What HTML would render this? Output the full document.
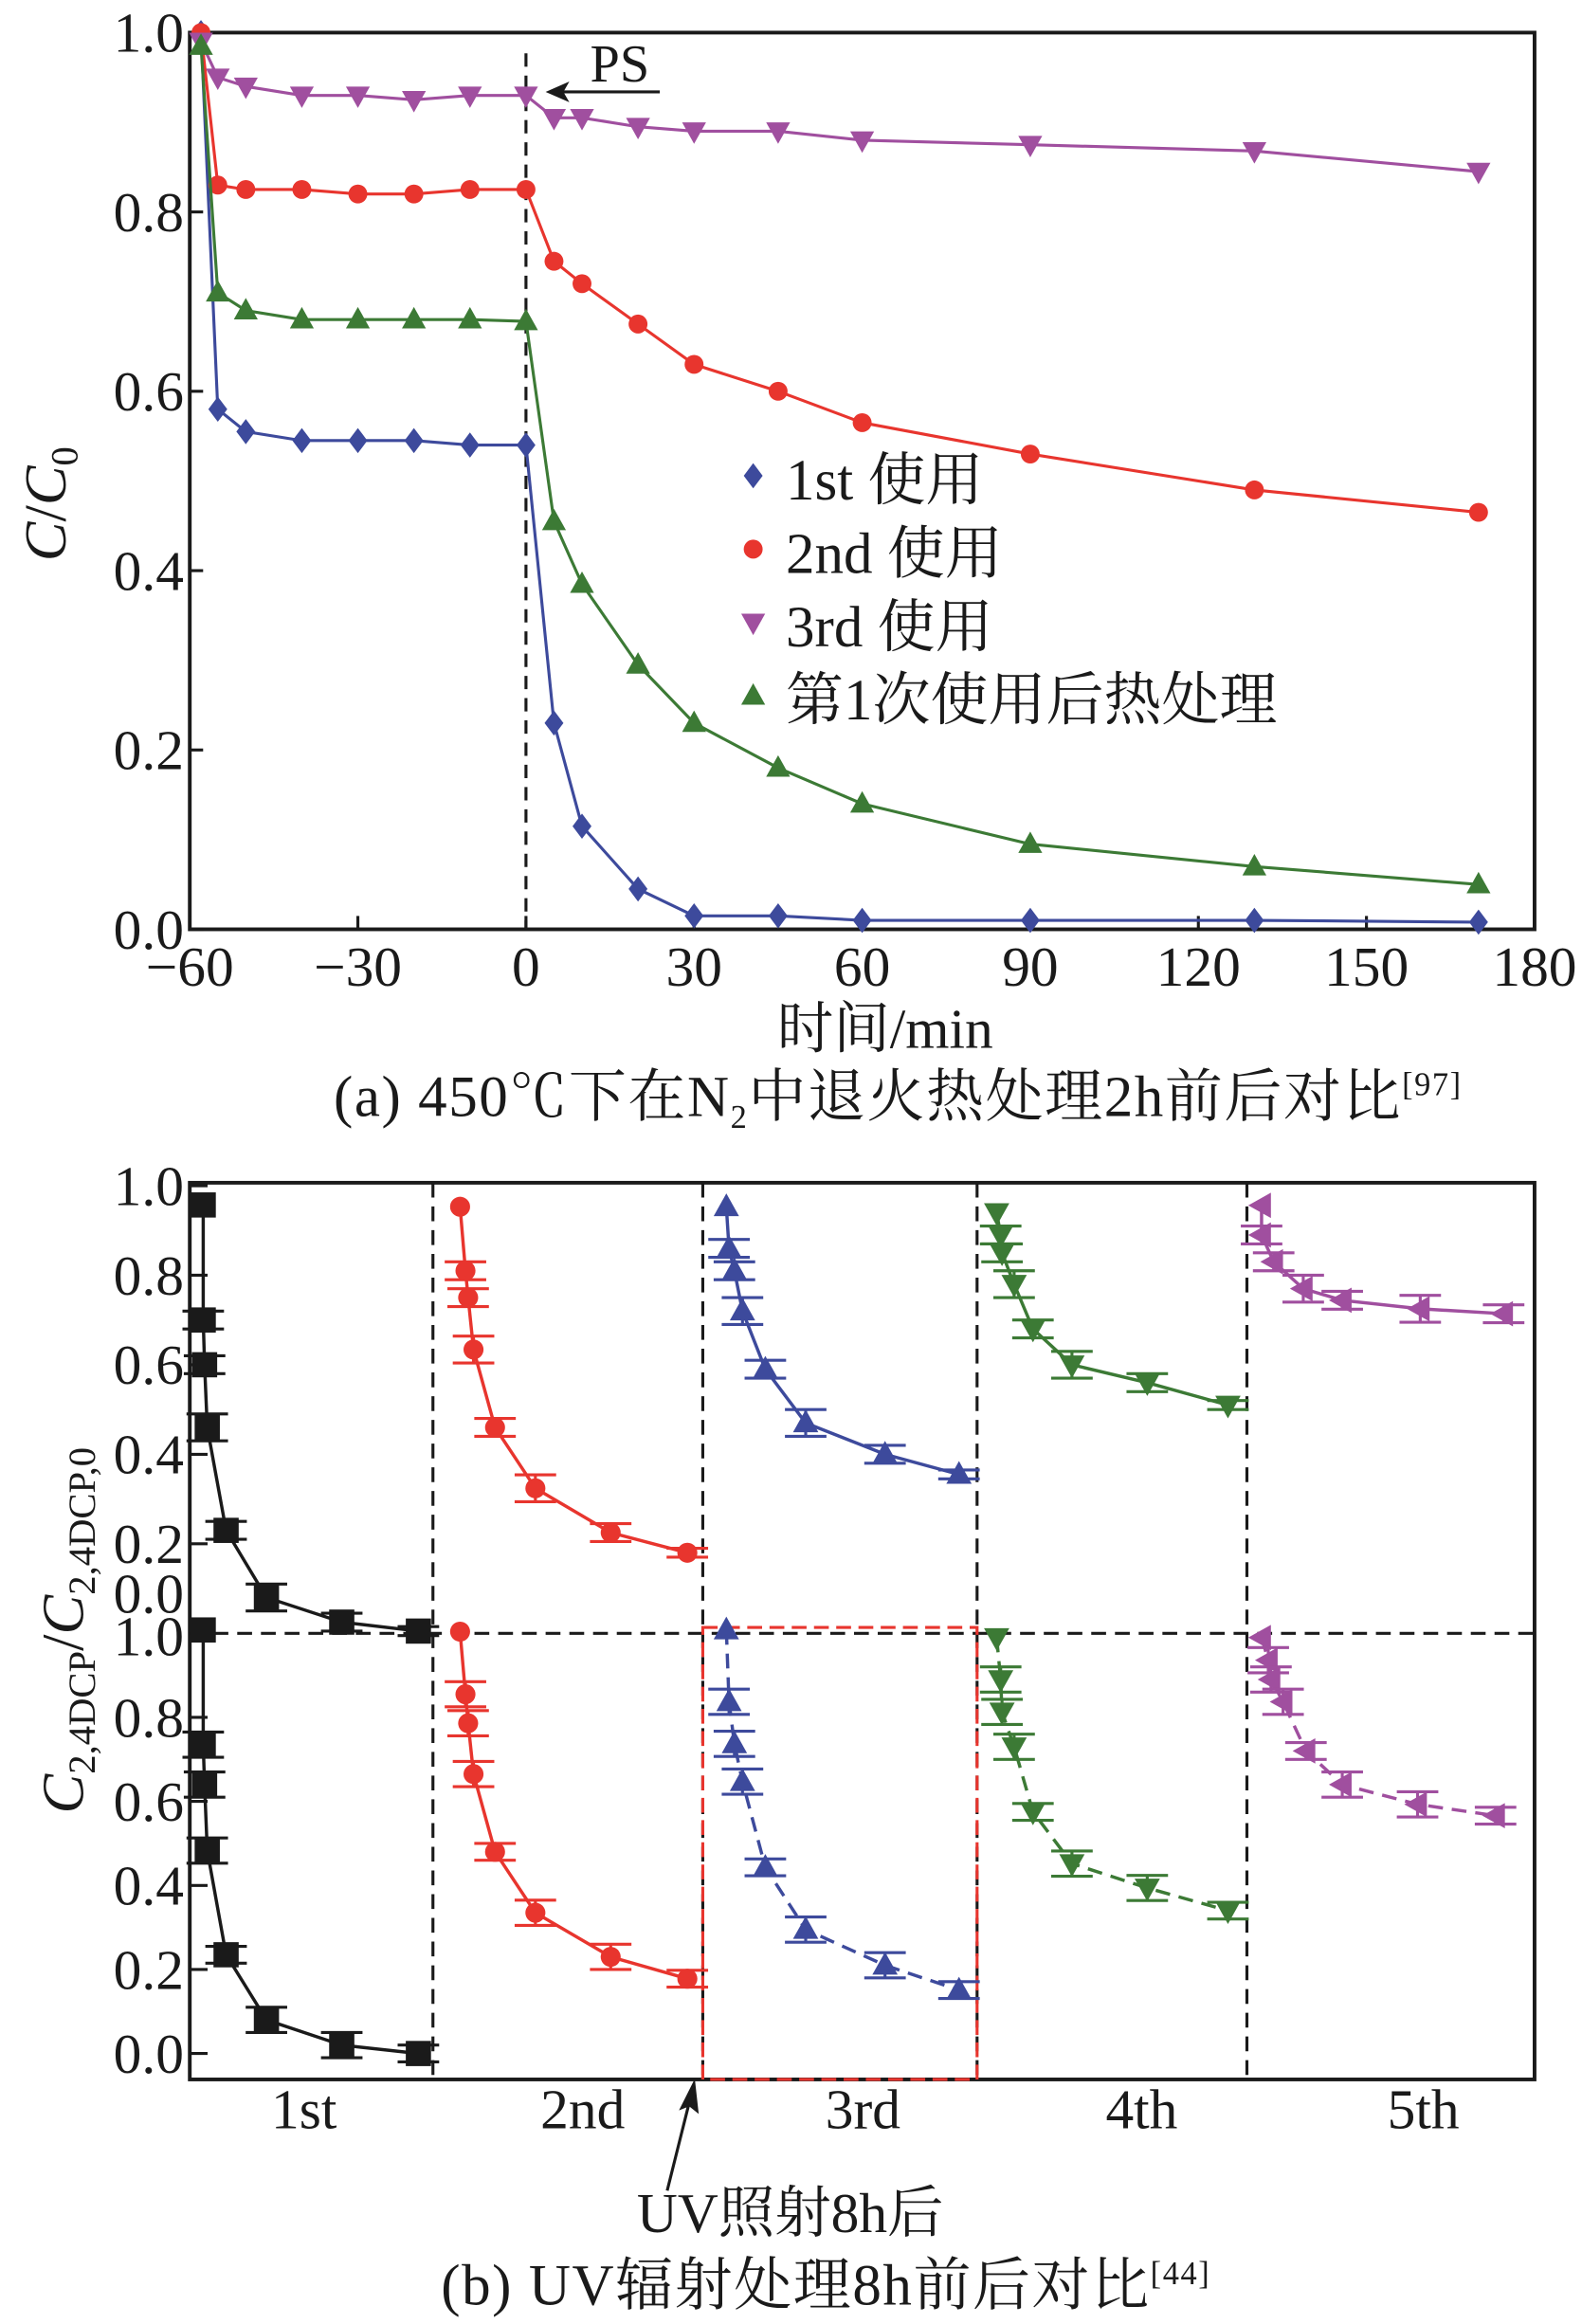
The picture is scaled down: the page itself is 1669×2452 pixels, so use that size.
<!DOCTYPE html>
<html><head><meta charset="utf-8"><style>
html,body{margin:0;padding:0;background:#fff}
svg{display:block}
text{font-family:"Liberation Serif","Noto Serif CJK SC","Noto Sans CJK SC",serif;fill:#1a1a1a}
</style></head><body>
<svg id="fig" width="1669" height="2452" viewBox="0 0 1067 1568" preserveAspectRatio="none" xmlns="http://www.w3.org/2000/svg">
<rect x="0" y="0" width="1067" height="1568" fill="#fff"/>
<g id="pa"></g>
<g id="pb"></g>
</svg>
<script>
// ---------- Panel (a) data ----------
const aTimes = [-58,-55,-50,-40,-30,-20,-10,0,5,10,20,30,45,60,90,130,170];
const aRun1 = [1.0,0.58,0.555,0.545,0.545,0.545,0.54,0.54,0.23,0.115,0.045,0.015,0.015,0.01,0.01,0.01,0.008];
const aRun2 = [1.0,0.83,0.825,0.825,0.82,0.82,0.825,0.825,0.745,0.72,0.675,0.63,0.6,0.565,0.53,0.49,0.465];
const aRun3 = [0.99,0.95,0.94,0.93,0.93,0.925,0.93,0.93,0.905,0.905,0.895,0.89,0.89,0.88,0.875,0.868,0.845];
const aHeat = [0.985,0.71,0.69,0.68,0.68,0.68,0.68,0.678,0.455,0.385,0.295,0.23,0.18,0.14,0.095,0.07,0.05];
const aXTicks = [-60,-30,0,30,60,90,120,150,180];
const aYTicks = [0,0.2,0.4,0.6,0.8,1.0];
const aLegend = ["1st 使用","2nd 使用","3rd 使用","第1次使用后热处理"];

// ---------- Panel (b) data ----------
const bCycles = ["1st","2nd","3rd","4th","5th"];
const bX1 = [1.0,1.0,1.1,1.3,2.7,5.7,11.3,17.0];
const bX2 = [20.1,20.5,20.7,21.1,22.7,25.7,31.3,37.0];
const bX3 = [39.9,40.1,40.5,41.1,42.8,45.8,51.7,57.2];
const bX4 = [60.0,60.3,60.4,61.3,62.7,65.6,71.2,77.2];
const bX5u = [79.7,79.7,80.6,82.8,85.7,91.5,97.7];
const bX5l = [79.7,80.2,80.4,81.3,83.0,85.7,91.3,97.1];
const bU1 = [0.957,0.70,0.60,0.46,0.23,0.08,0.025,0.005];
const bU2 = [0.953,0.81,0.75,0.634,0.46,0.324,0.225,0.18];
const bU3 = [0.953,0.86,0.81,0.72,0.59,0.47,0.40,0.355];
const bU4 = [0.94,0.89,0.85,0.78,0.68,0.60,0.56,0.51];
const bU5 = [0.956,0.89,0.83,0.77,0.744,0.725,0.714];
const bL1 = [1.008,0.735,0.64,0.483,0.235,0.08,0.02,0.0];
const bL2 = [1.004,0.855,0.786,0.665,0.48,0.335,0.23,0.178];
const bL3 = [1.008,0.837,0.737,0.647,0.443,0.295,0.21,0.151];
const bL4 = [0.99,0.89,0.813,0.73,0.575,0.452,0.394,0.34];
const bL5 = [0.99,0.936,0.89,0.837,0.72,0.64,0.593,0.566];
const bErrU = [0,0.02,0.02,0.03,0.02,0.03,0.02,0.01];
const bErrL = [0,0.03,0.03,0.03,0.02,0.03,0.03,0.02];
const bYTicks = [0,0.2,0.4,0.6,0.8,1.0];

const NS="http://www.w3.org/2000/svg";
function mk(parent,tag,attrs,txt){const e=document.createElementNS(NS,tag);for(const k in attrs)e.setAttribute(k,attrs[k]);if(txt!==undefined)e.textContent=txt;parent.appendChild(e);return e;}
const BLUE="#3d4a9c",RED="#e8352e",PURPLE="#a04f9f",GREEN="#3c7a35",BLACK="#1a1a1a";

function marker(g,type,x,y,c,s){
  let e;
  if(type==="diamond") e=mk(g,"polygon",{points:`${x},${y-s} ${x+s*0.75},${y} ${x},${y+s} ${x-s*0.75},${y}`,fill:c});
  else if(type==="circle") e=mk(g,"circle",{cx:x,cy:y,r:s*0.75,fill:c});
  else if(type==="up") e=mk(g,"polygon",{points:`${x},${y-s} ${x+s*0.95},${y+s*0.7} ${x-s*0.95},${y+s*0.7}`,fill:c});
  else if(type==="down") e=mk(g,"polygon",{points:`${x},${y+s} ${x+s*0.95},${y-s*0.7} ${x-s*0.95},${y-s*0.7}`,fill:c});
  else if(type==="left") e=mk(g,"polygon",{points:`${x-s},${y} ${x+s*0.7},${y-s*0.95} ${x+s*0.7},${y+s*0.95}`,fill:c});
  else e=mk(g,"rect",{x:x-s,y:y-s,width:2*s,height:2*s,fill:c});
  return e;
}

// ---------- Panel (a) ----------
(function(){
  const g=document.getElementById('pa');
  const L=128,R=1035,T=22,B=627;
  const xA=v=>L+(v+60)/240*(R-L);
  const yA=v=>B-v*(B-T);
  let e;
  e=mk(g,"rect",{x:L,y:T,width:R-L,height:B-T,fill:"none",stroke:BLACK,"stroke-width":2.5});
  
  
  aXTicks.forEach(v=>{
    const t=mk(g,"line",{x1:xA(v),x2:xA(v),y1:B,y2:B-9,stroke:BLACK,"stroke-width":2});
    
    
    const lb=mk(g,"text",{x:xA(v),y:B+38,"font-size":38,"text-anchor":"middle"},v<0?"−"+(-v):String(v));
    
    
  });
  aYTicks.forEach(v=>{
    const t=mk(g,"line",{x1:L,x2:L+9,y1:yA(v),y2:yA(v),stroke:BLACK,"stroke-width":2});
    
    
    const lb=mk(g,"text",{x:L-4,y:yA(v)+13,"font-size":38,"text-anchor":"end"},v.toFixed(1));
    
    
  });
  e=mk(g,"line",{x1:xA(0),x2:xA(0),y1:T+14,y2:B,stroke:BLACK,"stroke-width":2,"stroke-dasharray":"9,6"});
  
  
  e=mk(g,"text",{x:418,y:55,"font-size":36,"text-anchor":"middle"},"PS");
  
  
  e=mk(g,"line",{x1:445,x2:378,y1:62,y2:62,stroke:BLACK,"stroke-width":2});
  
  
  mk(g,"polygon",{points:"368,62 384,55 380,62 384,69",fill:BLACK});
  const series=[[aRun1,BLUE,"diamond","series-1st-use"],[aRun2,RED,"circle","series-2nd-use"],[aRun3,PURPLE,"down","series-3rd-use"],[aHeat,GREEN,"up","series-heat-treated"]];
  series.forEach(([ys,c,m,n])=>{
    const sg=mk(g,"g",{});
    
    
    const p=mk(sg,"polyline",{points:aTimes.map((t,i)=>xA(t)+","+yA(ys[i])).join(" "),fill:"none",stroke:c,"stroke-width":2});
    
    
    aTimes.forEach((t,i)=>{
      const mm=marker(sg,m,xA(t),yA(ys[i]),c,8.5);
      
      
    });
  });
  const lm=[[BLUE,"diamond"],[RED,"circle"],[PURPLE,"down"],[GREEN,"up"]];
  aLegend.forEach((txt,i)=>{
    const y=325+i*49.5;
    const lg=mk(g,"g",{});
    
    
    marker(lg,lm[i][1],508,y-4,lm[i][0],8.5);
    mk(lg,"text",{x:530,y:y+12,"font-size":39},txt);
  });
  e=mk(g,"text",{x:597,y:707,"font-size":38,"text-anchor":"middle"},"时间/min");
  
  
  e=mk(g,"text",{transform:"translate(44,340) rotate(-90)","font-size":40,"text-anchor":"middle"});
  
  
  e.innerHTML='<tspan font-style="italic">C</tspan>/<tspan font-style="italic">C</tspan><tspan font-size="26" dy="8">0</tspan>';
  e=mk(g,"text",{x:225,y:753,"font-size":39,"letter-spacing":"1"});
  
  
  e.innerHTML='(a) 450℃下在N<tspan font-size="22" dy="8">2</tspan><tspan dy="-8">中退火热处理2h前后对比</tspan><tspan font-size="22" dy="-14">[97]</tspan>';
})();

// ---------- Panel (b) ----------
(function(){
  const g=document.getElementById('pb');
  const L=128,R=1035,T=798,B=1403;
  const xB=v=>L+v/100*(R-L);
  const yU=v=>1102-v*302;
  const yL=v=>1385.5-v*283.5;
  let e;
  e=mk(g,"rect",{x:L,y:T,width:R-L,height:B-T,fill:"none",stroke:BLACK,"stroke-width":2.5});
  
  
  e=mk(g,"line",{x1:L,x2:R,y1:1102,y2:1102,stroke:BLACK,"stroke-width":2,"stroke-dasharray":"10,6"});
  
  
  [292,474,659,841].forEach(xs=>{
    const d=mk(g,"line",{x1:xs,x2:xs,y1:T,y2:B,stroke:BLACK,"stroke-width":2,"stroke-dasharray":"10,6"});
    
    
  });
  e=mk(g,"rect",{x:474,y:1098,width:185,height:305,fill:"none",stroke:"#e8352e","stroke-width":2,"stroke-dasharray":"10,5"});
  
  
  bYTicks.forEach(v=>{
    const t=mk(g,"line",{x1:L,x2:L+12,y1:yU(v),y2:yU(v),stroke:BLACK,"stroke-width":2});
    
    
    const ly=v===0?1088:yU(v)+13;
    const lb=mk(g,"text",{x:L-4,y:ly,"font-size":38,"text-anchor":"end"},v.toFixed(1));
    
    
    const t2=mk(g,"line",{x1:L,x2:L+12,y1:yL(v),y2:yL(v),stroke:BLACK,"stroke-width":2});
    
    
    const lb2=mk(g,"text",{x:L-4,y:(v===1?1117:yL(v)+13),"font-size":38,"text-anchor":"end"},v.toFixed(1));
    
    
  });
  const cfg=[
    [bX1,bU1,bX1,bL1,BLACK,"square",false,"cycle-1st"],
    [bX2,bU2,bX2,bL2,RED,"circle",false,"cycle-2nd"],
    [bX3,bU3,bX3,bL3,BLUE,"up",true,"cycle-3rd"],
    [bX4,bU4,bX4,bL4,GREEN,"down",true,"cycle-4th"],
    [bX5u,bU5,bX5l,bL5,PURPLE,"left",true,"cycle-5th"]];
  cfg.forEach(([xu,yu,xl,yl,c,m,dashLower,n])=>{
    const sg=mk(g,"g",{});
    
    
    [[xu,yu,yU,false,bErrU],[xl,yl,yL,dashLower,bErrL]].forEach(([xs,ys,ys2,dash,err])=>{
      const p=mk(sg,"polyline",{points:xs.map((x,i)=>xB(x)+","+ys2(ys[i])).join(" "),fill:"none",stroke:c,"stroke-width":2.2});
      if(dash)p.setAttribute("stroke-dasharray","10,6");
      
      
      xs.forEach((x,i)=>{
        const px=xB(x),py=ys2(ys[i]),er=(err[i]||0)*(ys2(0)-ys2(1));
        if(er>0){
          const eb=mk(sg,"path",{d:`M${px},${py-er}V${py+er}M${px-14},${py-er}H${px+14}M${px-14},${py+er}H${px+14}`,stroke:c,"stroke-width":2,fill:"none"});
          
          
        }
        const mm=marker(sg,m,px,py,c,m==="square"?8.5:9);
        
        
      });
    });
  });
  const cx=[205,393,582,770,960];
  bCycles.forEach((t,i)=>{
    const lb=mk(g,"text",{x:cx[i],y:1436,"font-size":38,"text-anchor":"middle"},t);
    
    
  });
  e=mk(g,"line",{x1:450,y1:1478,x2:465,y2:1418,stroke:BLACK,"stroke-width":2});
  
  
  mk(g,"polygon",{points:"468,1406 470,1424 465,1420 460,1422",fill:BLACK,stroke:BLACK,"stroke-width":2});
  e=mk(g,"text",{x:533,y:1506,"font-size":38,"text-anchor":"middle"},"UV照射8h后");
  
  
  e=mk(g,"text",{transform:"translate(56,1100) rotate(-90)","font-size":40,"text-anchor":"middle"});
  
  
  e.innerHTML='<tspan font-style="italic">C</tspan><tspan font-size="26" dy="8">2,4DCP</tspan><tspan dy="-8">/</tspan><tspan font-style="italic">C</tspan><tspan font-size="26" dy="8">2,4DCP,0</tspan>';
  e=mk(g,"text",{x:557,y:1555,"font-size":39,"text-anchor":"middle","letter-spacing":"1"});
  
  
  e.innerHTML='(b) UV辐射处理8h前后对比<tspan font-size="22" dy="-14">[44]</tspan>';
})();
</script>
</body></html>
